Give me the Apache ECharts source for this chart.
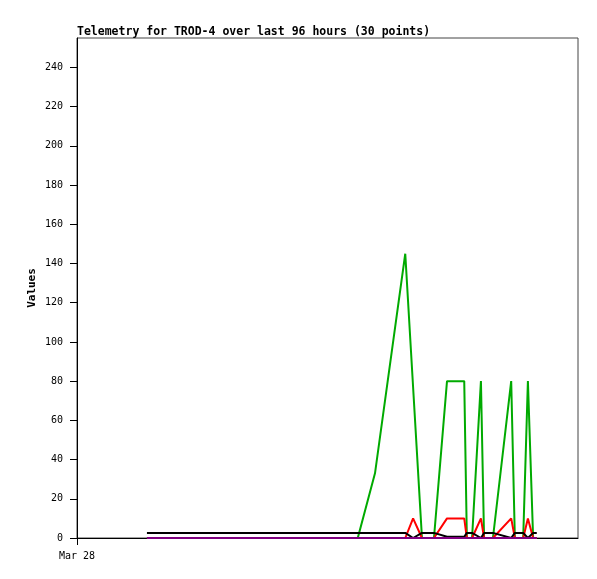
<!DOCTYPE html>
<html><head><meta charset="utf-8">
<script src="https://cdn.jsdelivr.net/npm/echarts@6/dist/echarts.min.js"></script>
<style>html,body{margin:0;padding:0;background:#fff}#c{width:597px;height:579px}</style>
</head><body><div id="c"></div>
<script>
// hours since Mar 28 00:00 (x axis spans 96 hours)
const hours  = [13.4, 53.8, 57.1, 62.9, 64.4, 66.1, 68.4, 70.9, 74.2, 74.7, 75.7, 77.4, 78.0, 79.7, 83.2, 83.9, 85.5, 86.4, 87.4, 88.1];
const green  = [0,    0,    33,   145,  77,   0,    0,    80,   80,   0,    0,    80,   0,    0,    80,   0,    0,    80,   0,    0];
const red    = [0,    0,    0,    0,    10,   0,    0,    10,   10,   0,    0,    10,   0,    0,    10,   0,    0,    10,   0,    0];
const black  = [2.6,  2.6,  2.6,  2.6,  0,    2.6,  2.6,  0.6,  0.6,  2.6,  2.6,  0,    2.6,  2.6,  0,    2.6,  2.6,  0,    2.6,  2.6];
const purple = [0,    0,    0,    0,    0,    0,    0,    0,    0,    0,    0,    0,    0,    0,    0,    0,    0,    0,    0,    0];
const xTickLabels = {0: 'Mar 28'};
const yTicks = [0,20,40,60,80,100,120,140,160,180,200,220,240];

const pair = arr => hours.map((h, i) => [h, arr[i]]);
const FONT = 'DejaVu Sans Mono';
const mk = (name, arr, color) => ({
  name, type: 'line', data: pair(arr), symbol: 'none', animation: false,
  lineStyle: {color, width: 2}, itemStyle: {color}
});
const chart = echarts.init(document.getElementById('c'), null, {renderer: 'canvas'});
chart.setOption({
  animation: false,
  backgroundColor: '#fff',
  title: {text: 'Telemetry for TROD-4 over last 96 hours (30 points)', left: 72, top: 21,
    textStyle: {fontFamily: FONT, fontSize: 11.5, fontWeight: 'bold', color: '#000'}},
  grid: {left: 77, top: 38, right: 19, bottom: 41, show: true, borderColor: '#444', borderWidth: 1},
  xAxis: {type: 'value', min: 0, max: 96, interval: 96,
    axisLine: {show: true, onZero: false, lineStyle: {color: '#000', width: 1}},
    axisTick: {show: true, inside: false, length: 7, customValues: [0], lineStyle: {color: '#000'}},
    axisLabel: {customValues: [0], formatter: v => xTickLabels[v] || '', fontFamily: FONT, fontSize: 10, color: '#000', margin: 13},
    splitLine: {show: false}},
  yAxis: {type: 'value', min: 0, max: 255, interval: 20,
    name: 'Values', nameLocation: 'middle', nameGap: 39, nameRotate: 90, nameMoveOverlap: false,
    nameTextStyle: {fontFamily: FONT, fontSize: 11, fontWeight: 'bold', color: '#000'},
    axisLine: {show: true, lineStyle: {color: '#000', width: 1}},
    axisTick: {show: true, inside: false, length: 7, customValues: yTicks, lineStyle: {color: '#000'}},
    axisLabel: {customValues: yTicks, fontFamily: FONT, fontSize: 10, color: '#000', margin: 14},
    splitLine: {show: false}},
  series: [
    mk('green', green, '#00aa00'),
    mk('red', red, '#ff0000'),
    mk('black', black, '#000000'),
    mk('purple', purple, '#800080')
  ]
});
</script></body></html>
